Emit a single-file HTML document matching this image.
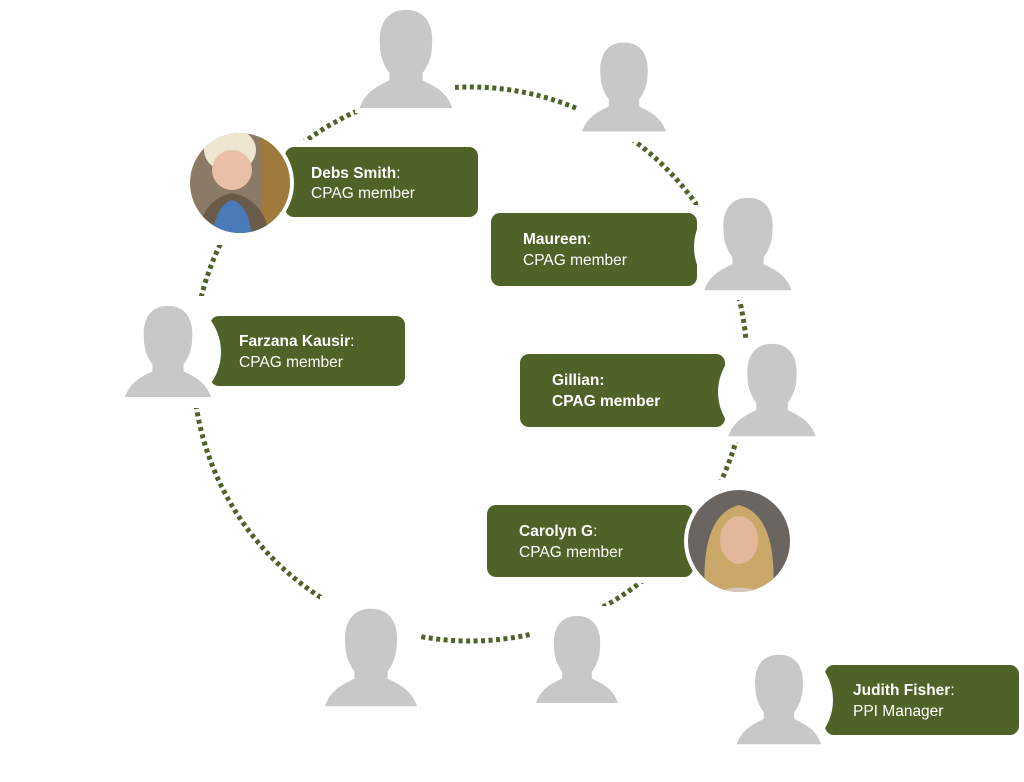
<!DOCTYPE html>
<html><head><meta charset="utf-8"><style>
html,body{margin:0;padding:0;background:#fff;width:1024px;height:782px;overflow:hidden}
svg{display:block}
text{font-family:"Liberation Sans",sans-serif;font-size:15.5px;fill:#fff}
.b{font-weight:bold}
</style></head><body>
<svg width="1024" height="782" viewBox="0 0 1024 782">
<defs>
<symbol id="p" viewBox="0 0 100 110">
<path fill="#c8c8c8" d="M50 2 C28 2 20 20 22 40 C22 52 26 62 32 70 L32 78 C20 84 6 90 0 108 L100 108 C94 90 80 84 68 78 L68 70 C74 62 78 52 78 40 C80 20 72 2 50 2 Z"/>
</symbol>
<clipPath id="c1"><circle cx="240" cy="183" r="50"/></clipPath>
<clipPath id="c2"><circle cx="739" cy="541" r="51"/></clipPath>
</defs>
<circle cx="470" cy="364" r="277" fill="none" stroke="#4f6228" stroke-width="5" stroke-dasharray="4 3.5"/>
<g fill="#fff">
<rect x="355" y="5" width="100" height="108"/>
<rect x="578" y="32" width="92" height="110"/>
<rect x="180" y="120" width="110" height="125"/>
<rect x="698" y="190" width="100" height="105"/>
<rect x="120" y="296" width="95" height="112"/>
<rect x="722" y="338" width="98" height="104"/>
<rect x="680" y="480" width="120" height="122"/>
<rect x="320" y="596" width="100" height="122"/>
<rect x="532" y="606" width="90" height="108"/>
<rect x="280" y="140" width="200" height="80"/>
<rect x="485" y="205" width="215" height="85"/>
<rect x="515" y="348" width="215" height="85"/>
<rect x="482" y="498" width="215" height="85"/>
</g>
<g fill="#4f6228">
<rect x="285" y="147" width="193" height="70" rx="9"/>
<rect x="491" y="213" width="206" height="73" rx="9"/>
<rect x="210" y="316" width="195" height="70" rx="9"/>
<rect x="520" y="354" width="205" height="73" rx="9"/>
<rect x="487" y="505" width="206" height="72" rx="9"/>
<rect x="825" y="665" width="194" height="70" rx="9"/>
</g>
<g fill="#fff">
<circle cx="748" cy="247" r="54"/>
<circle cx="167" cy="352" r="54"/>
<circle cx="771" cy="392" r="53"/>
<circle cx="779" cy="700" r="54"/>
</g>
<use href="#p" x="358" y="8" width="96" height="102"/>
<use href="#p" x="582" y="36" width="84" height="102"/>
<use href="#p" x="702" y="196" width="92" height="96"/>
<use href="#p" x="125" y="298" width="86" height="107"/>
<use href="#p" x="727" y="342" width="90" height="96"/>
<use href="#p" x="325" y="600" width="92" height="115"/>
<use href="#p" x="536" y="608" width="82" height="103"/>
<use href="#p" x="735" y="653" width="88" height="93"/>
<circle cx="240" cy="183" r="54" fill="#fff"/>
<g clip-path="url(#c1)">
<rect x="185" y="130" width="110" height="110" fill="#8a7a66"/>
<path d="M260 130 L295 130 L295 240 L262 240 Z" fill="#a07a3c"/>
<ellipse cx="230" cy="150" rx="26" ry="22" fill="#efe6d0"/>
<circle cx="232" cy="170" r="20" fill="#e8c0a8"/>
<path d="M198 240 Q200 200 232 193 Q266 200 270 240 Z" fill="#6a5a4a"/>
<path d="M212 240 Q215 205 232 200 Q250 205 252 240 Z" fill="#4a7ab8"/>
</g>
<circle cx="739" cy="541" r="55" fill="#fff"/>
<g clip-path="url(#c2)">
<rect x="685" y="488" width="110" height="110" fill="#6a6560"/>
<path d="M705 595 Q700 515 739 505 Q778 515 773 595 Z" fill="#c9a86a"/>
<ellipse cx="739" cy="540" rx="19" ry="24" fill="#e2b79a"/>
<path d="M705 600 Q739 575 773 600 Z" fill="#d8c8c0"/>
</g>
<text x="311" y="178" class="b">Debs Smith<tspan font-weight="normal">:</tspan></text>
<text x="311" y="198">CPAG member</text>
<text x="523" y="244" class="b">Maureen<tspan font-weight="normal">:</tspan></text>
<text x="523" y="265">CPAG member</text>
<text x="239" y="346" class="b">Farzana Kausir<tspan font-weight="normal">:</tspan></text>
<text x="239" y="367">CPAG member</text>
<text x="552" y="385" class="b">Gillian:</text>
<text x="552" y="406" class="b">CPAG member</text>
<text x="519" y="536" class="b">Carolyn G<tspan font-weight="normal">:</tspan></text>
<text x="519" y="557">CPAG member</text>
<text x="853" y="695" class="b">Judith Fisher<tspan font-weight="normal">:</tspan></text>
<text x="853" y="716">PPI Manager</text>
</svg>
</body></html>
